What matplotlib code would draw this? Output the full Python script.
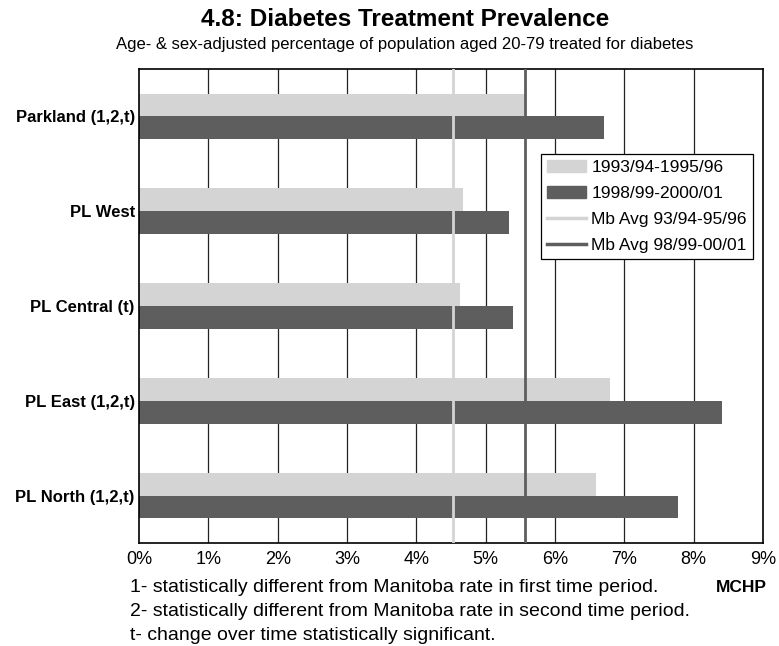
import numpy as np
import matplotlib
matplotlib.use("Agg")
import matplotlib.pyplot as plt
from matplotlib.patches import Patch
from matplotlib.lines import Line2D

plt.rcParams['font.family'] = ['Liberation Sans', 'DejaVu Sans']

# Datos
regions = ['Parkland (1,2,t)', 'PL West', 'PL Central (t)', 'PL East (1,2,t)', 'PL North (1,2,t)']
rate_9396 = [5.57, 4.67, 4.63, 6.79, 6.59]
rate_9801 = [6.70, 5.33, 5.39, 8.41, 7.77]
mb_avg_9396 = 4.53
mb_avg_9801 = 5.56
x_ticks = [0, 1, 2, 3, 4, 5, 6, 7, 8, 9]

light = '#d4d4d4'
dark = '#5e5e5e'

fig = plt.figure(figsize=(7.79, 6.46), dpi=100)
ax = fig.add_axes([0.1784, 0.1594, 0.8011, 0.7338])

y = np.arange(len(regions))
h = 0.24
ax.barh(y - h / 2, rate_9396, height=h, color=light, zorder=2)
ax.barh(y + h / 2, rate_9801, height=h, color=dark, zorder=2)

# Lineas de rejilla verticales
for xt in x_ticks[1:-1]:
    ax.axvline(xt, color='#222222', lw=0.9, zorder=1)

# Promedios de Manitoba
ax.axvline(mb_avg_9396, color=light, lw=2.0, zorder=3)
ax.axvline(mb_avg_9801, color=dark, lw=2.0, zorder=3)

ax.set_xlim(0, 9)
ax.set_ylim(len(regions) - 0.5, -0.5)
ax.set_xticks(x_ticks)
ax.set_xticklabels([f'{v}%' for v in x_ticks], fontsize=13)
ax.set_yticks(y)
ax.set_yticklabels(regions, fontsize=12, fontweight='bold')
ax.tick_params(length=0)
ax.tick_params(axis='x', pad=6)
ax.tick_params(axis='y', pad=3)
for s in ax.spines.values():
    s.set_color('black')
    s.set_linewidth(1.2)

handles = [Patch(color=light, label='1993/94-1995/96'),
           Patch(color=dark, label='1998/99-2000/01'),
           Line2D([], [], color=light, lw=2.5, label='Mb Avg 93/94-95/96'),
           Line2D([], [], color=dark, lw=2.5, label='Mb Avg 98/99-00/01')]
leg = ax.legend(handles=handles, loc='upper right', bbox_to_anchor=(0.984, 0.8207),
                fontsize=12.5, frameon=True, fancybox=False, framealpha=1,
                edgecolor='black', borderpad=0.35, labelspacing=0.62,
                handlelength=2.25, handletextpad=0.3, borderaxespad=0)
leg.get_frame().set_linewidth(0.9)

fig.text(405 / 779, 1 - 19 / 646, '4.8: Diabetes Treatment Prevalence', ha='center', va='center',
         fontsize=17.5, fontweight='bold')
fig.text(405 / 779, 1 - 45 / 646, 'Age- & sex-adjusted percentage of population aged 20-79 treated for diabetes',
         ha='center', va='center', fontsize=12)

notes = ['1- statistically different from Manitoba rate in first time period.',
         '2- statistically different from Manitoba rate in second time period.',
         't- change over time statistically significant.']
for i, n in enumerate(notes):
    fig.text(130 / 779, 1 - (587 + 24 * i) / 646, n, ha='left', va='center', fontsize=14)
fig.text(767 / 779, 1 - 587 / 646, 'MCHP', ha='right', va='center', fontsize=12.5, fontweight='bold')

fig.savefig('out.png', dpi=100)
